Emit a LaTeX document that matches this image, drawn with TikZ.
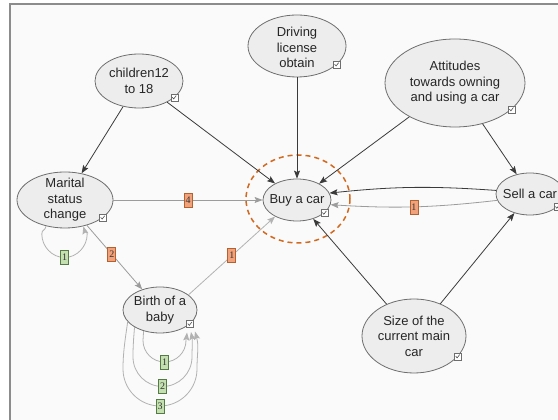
\documentclass[tikz,border=0pt]{standalone}
\usepackage{fontspec}
\setmainfont{Liberation Sans}
\newfontfamily\numfont{Liberation Serif}
\usetikzlibrary{shapes.geometric,arrows.meta}

\definecolor{bgpanel}{HTML}{FAFAFA}
\definecolor{framegray}{HTML}{8C8C8C}
\definecolor{nodefill}{HTML}{EDEDED}
\definecolor{nodeline}{HTML}{6E6E6E}
\definecolor{causalcol}{HTML}{3A3A3A}
\definecolor{lagcol}{HTML}{9C9C9C}
\definecolor{lagcollight}{HTML}{B2B2B2}
\definecolor{focuscol}{HTML}{D2691E}
\definecolor{lagfill}{HTML}{F2A27A}
\definecolor{lagdraw}{HTML}{B5612F}
\definecolor{loopfill}{HTML}{C4DFB0}
\definecolor{loopdraw}{HTML}{557A45}

\tikzset{
  var/.style={ellipse, draw=nodeline, fill=nodefill, line width=0.8pt, inner sep=0pt},
  vartext/.style={align=center, inner sep=0pt, text=black!85,
    font=\fontsize{13}{15.5}\selectfont},
  tick/.style={draw=nodeline, fill=white, line width=0.6pt, minimum size=7pt,
    inner sep=0pt,
    path picture={\draw[line width=0.6pt, black!70]
      ([shift={(-2.2pt,0.3pt)}]path picture bounding box.center)
      -- ++(1.5pt,-1.7pt) -- ++(2.5pt,3.3pt);}},
  tip/.style={-{Stealth[length=8pt,width=6pt,inset=1.5pt]}},
  causal/.style={tip, draw=causalcol, line width=0.8pt},
  lag/.style={tip, draw=lagcol, line width=0.8pt},
  loopline/.style={tip, draw=lagcollight, line width=0.8pt},
  lagtag/.style={draw=lagdraw, fill=lagfill, line width=0.6pt, minimum width=8pt,
    minimum height=14pt, inner sep=0pt, text=black!80,
    font=\numfont\fontsize{10}{10}\selectfont},
  looptag/.style={lagtag, draw=loopdraw, fill=loopfill},
  focusring/.style={ellipse, draw=focuscol, line width=1.5pt,
    dash pattern=on 5pt off 4pt, inner sep=0pt}
}

\begin{document}
\begin{tikzpicture}[x=1pt,y=1pt]
\useasboundingbox (0,0) rectangle (558,420);
\clip (0,0) rectangle (558,420);

% panel and frame
\fill[white] (0,0) rectangle (558,420);
\fill[bgpanel] (10,0) rectangle (558,415.5);
\draw[framegray, line width=2pt] (10,0) -- (10,415.5) -- (558,415.5);

% variables
\node[var, minimum width=88pt,  minimum height=54pt] (kids) at (139,339) {};
\node[var, minimum width=98pt,  minimum height=62pt] (lic)  at (297,374) {};
\node[var, minimum width=140pt, minimum height=88pt] (att)  at (455,337) {};
\node[var, minimum width=96pt,  minimum height=56pt] (mar)  at (65,220)  {};
\node[var, minimum width=74pt,  minimum height=46pt] (baby) at (160,110) {};
\node[var, minimum width=68pt,  minimum height=42pt] (buy)  at (297,220) {};
\node[var, minimum width=68pt,  minimum height=42pt] (sell) at (530,226) {};
\node[var, minimum width=104pt, minimum height=74pt] (size) at (414,84)  {};

\node[vartext] (kids-t) at (kids) {children12\\to 18};
\node[vartext] (lic-t)  at ([yshift=-1.5pt]lic.center) {Driving\\license\\obtain};
\node[vartext] (att-t)  at (att)  {Attitudes\\towards owning\\and using a car};
\node[vartext] (mar-t)  at (mar)  {Marital\\status\\change};
\node[vartext] (baby-t) at (baby) {Birth of a\\baby};
\node[vartext] (buy-t)  at (buy)  {Buy a car};
\node[vartext] (sell-t) at (sell) {Sell a car};
\node[vartext] (size-t) at (size) {Size of the\\current main\\car};

% highlight around the target variable
\node[focusring, minimum width=104pt, minimum height=88pt] (ring) at (298,221) {};

% direct influences
\draw[causal] (kids) -- (mar);
\draw[causal] (kids) -- (buy);
\draw[causal] (lic) -- (buy);
\draw[causal] (att) -- (buy);
\draw[causal] (att) -- (sell);
\draw[causal] (size) -- (buy);
\draw[causal] (size) -- (sell);
\draw[causal] (sell.174) to[bend right=5] (buy.12);

% lagged influences
\draw[lag] (sell.191) to[bend left=5] node[lagtag] (l-sell) {1} (buy.-8);
\draw[lag] (mar) -- node[lagtag] (l-mar) {4} (buy);
\draw[lag] (mar) -- node[lagtag, pos=0.45] (l-mb) {2} (baby);
\draw[lag, draw=lagcollight] (baby.28) -- node[lagtag] (l-baby) {1} (buy.217);

% self loop on marital status: round loop below the node
\coordinate (mL) at (41.8,186);
\coordinate (m1) at (64.5,162.5);
\coordinate (mR) at (87.2,186);
\draw[loopline] (mar.234) .. controls +(262:5) and +(90:5) .. (mL)
  .. controls +(270:12.5) and +(180:12.5) .. (m1)
  .. controls +(0:12.5) and +(270:12.5) .. (mR)
  .. controls +(90:4) and +(285:4) .. (mar.305);
\node[looptag] (t-m1) at (m1) {1};

% self loops on birth of a baby (lags 1, 2, 3)
\coordinate (aL) at (143,79.5);  \coordinate (b1) at (164.5,58); \coordinate (aR) at (186,79.5);
\coordinate (cL) at (133,63);    \coordinate (b2) at (162.5,33.5); \coordinate (cR) at (192,63);
\coordinate (dL) at (123,51);    \coordinate (b3) at (160,14);   \coordinate (dR) at (197,51);
\coordinate (e1) at ([shift={(27,-22.5)}]baby.center);
\coordinate (e2) at ([shift={(31,-22)}]baby.center);
\coordinate (e3) at ([shift={(35,-21.5)}]baby.center);
\draw[loopline] (baby.232) .. controls +(268:4) and +(90:4) .. (aL)
  .. controls +(270:11.9) and +(180:11.9) .. (b1)
  .. controls +(0:11.9) and +(270:11.9) .. (aR)
  .. controls +(90:3) and +(265:3) .. (e1);
\draw[loopline] (baby.214) .. controls +(265:11) and +(90:11) .. (cL)
  .. controls +(270:16.3) and +(180:16.3) .. (b2)
  .. controls +(0:16.3) and +(270:16.3) .. (cR)
  .. controls +(90:10) and +(280:10) .. (e2);
\draw[loopline] (baby.200) .. controls +(262:17) and +(90:17) .. (dL)
  .. controls +(270:20.4) and +(180:20.4) .. (b3)
  .. controls +(0:20.4) and +(270:20.4) .. (dR)
  .. controls +(90:16) and +(285:16) .. (e3);
\node[looptag] (t-b1) at (b1) {1};
\node[looptag] (t-b2) at (b2) {2};
\node[looptag] (t-b3) at (b3) {3};

% observed-variable check boxes
\foreach \n in {kids,lic,att,mar,baby,buy,sell,size}
  \node[tick] at (\n.-25) {};
\end{tikzpicture}
\end{document}
